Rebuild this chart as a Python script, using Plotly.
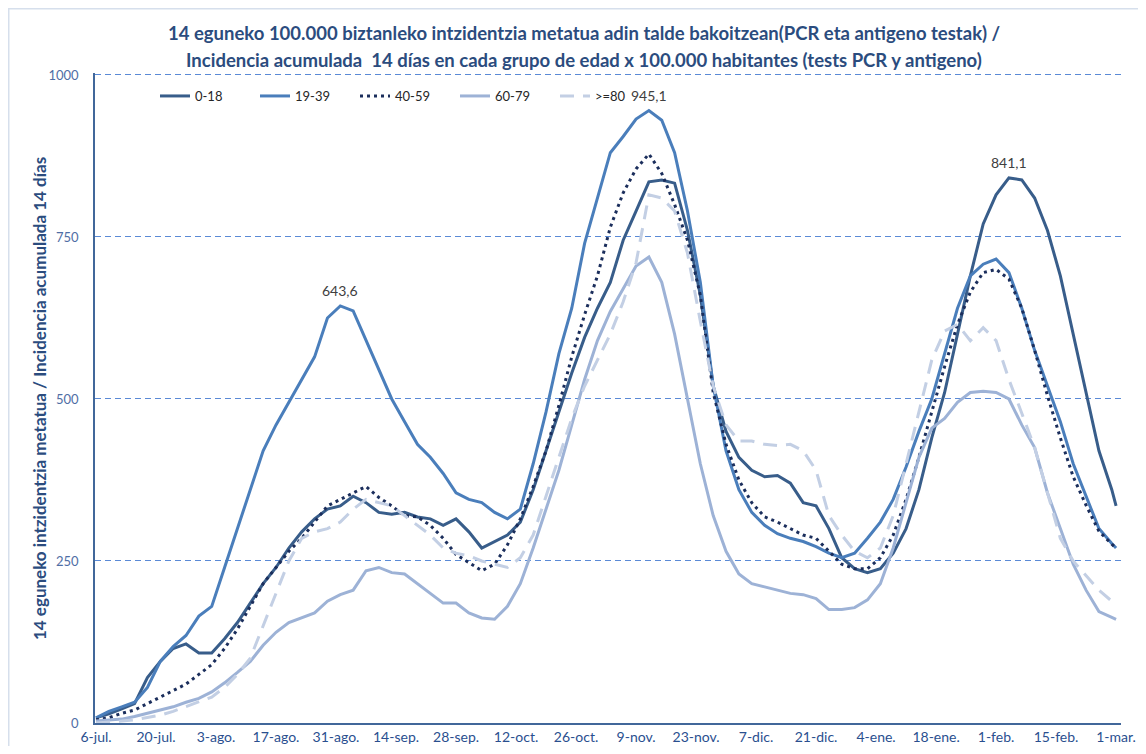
import plotly.graph_objects as go
import pandas as pd

# ---------------- data ----------------
dates = [d.strftime("%Y-%m-%d") for d in pd.date_range("2020-07-06", periods=80, freq="3D")] + ["2021-03-01"]

tick_dates = [d.strftime("%Y-%m-%d") for d in pd.date_range("2020-07-06", periods=18, freq="14D")]
tick_labels = ["6-jul.", "20-jul.", "3-ago.", "17-ago.", "31-ago.", "14-sep.", "28-sep.", "12-oct.",
               "26-oct.", "9-nov.", "23-nov.", "7-dic.", "21-dic.", "4-ene.", "18-ene.", "1-feb.",
               "15-feb.", "1-mar."]

age_0_18 = [8, 14, 22, 30, 70, 95, 115, 122, 108, 108,
            130, 155, 185, 215, 240, 270, 295, 315, 330, 335,
            350, 340, 325, 322, 325, 318, 315, 305, 315, 295,
            270, 280, 290, 310, 360, 420, 480, 540, 595, 640,
            680, 745, 790, 835, 838, 833, 760, 660, 520, 450,
            410, 390, 380, 382, 370, 340, 335, 300, 255, 238,
            232, 238, 262, 300, 360, 440, 510, 600, 690, 770,
            815, 841.1, 838, 810, 760, 690, 600, 505, 420, 360,
            335]

age_19_39 = [8, 18, 25, 32, 55, 95, 118, 135, 165, 180,
             240, 300, 360, 420, 460, 495, 530, 565, 625, 643.6,
             636, 590, 545, 500, 465, 430, 410, 385, 355, 345,
             340, 325, 315, 330, 400, 480, 570, 640, 740, 810,
             880, 905, 932, 945.1, 930, 880, 790, 680, 520, 420,
             360, 325, 305, 292, 285, 280, 272, 262, 255, 262,
             285, 310, 345, 395, 450, 500, 570, 640, 690, 708,
             716, 695, 640, 575, 520, 465, 400, 350, 300, 277,
             270]

age_40_59 = [5, 8, 15, 20, 30, 40, 50, 60, 75, 90,
             115, 145, 180, 215, 240, 265, 285, 310, 335, 345,
             355, 365, 348, 335, 320, 318, 305, 285, 260, 248,
             235, 245, 275, 315, 365, 420, 490, 565, 630, 690,
             765, 818, 855, 878, 848, 800, 745, 660, 510, 430,
             375, 340, 318, 310, 300, 290, 285, 265, 245, 238,
             238, 255, 290, 345, 410, 480, 550, 615, 665, 695,
             700, 685, 640, 575, 505, 440, 380, 336, 296, 276,
             270]

age_60_79 = [3, 4, 6, 10, 15, 20, 25, 32, 38, 48,
             62, 78, 95, 120, 140, 155, 162, 170, 188, 198,
             205, 235, 240, 232, 230, 215, 200, 185, 185, 170,
             162, 160, 180, 215, 270, 330, 390, 460, 530, 590,
             635, 670, 705, 719, 680, 600, 500, 400, 320, 265,
             230, 215, 210, 205, 200, 198, 192, 175, 175, 178,
             190, 215, 270, 340, 410, 455, 470, 495, 510, 512,
             510, 500, 460, 425, 355, 300, 245, 205, 172, 163,
             160]

age_80_plus = [0, 1, 3, 5, 8, 12, 18, 25, 32, 40,
               55, 75, 100, 150, 200, 250, 285, 295, 300, 310,
               330, 345, 340, 335, 320, 305, 290, 270, 262, 258,
               250, 245, 240, 255, 290, 350, 410, 470, 520, 560,
               600, 650, 710, 815, 810, 790, 725, 620, 520, 460,
               435, 435, 430, 428, 430, 420, 390, 320, 290, 265,
               255, 270, 320, 400, 480, 560, 605, 615, 590, 610,
               590, 530, 478, 425, 355, 285, 250, 228, 205, 188,
               185]

series_names = ["0-18", "19-39", "40-59", "60-79", ">=80"]
series_values = [age_0_18, age_19_39, age_40_59, age_60_79, age_80_plus]

# ---------------- styling ----------------
styles = [
    dict(color="#385D8A", width=3, dash="solid"),
    dict(color="#4A7EBB", width=3, dash="solid"),
    dict(color="#1B2E5C", width=3, dash="3px,4px"),
    dict(color="#9DB2D6", width=3, dash="solid"),
    dict(color="#C3CFE4", width=3, dash="14px,9px"),
]

# the page body has an 8px margin, so the figure is drawn 8px right/down
OFF = 8
W, H = 1146 - 2 * OFF, 754 - 2 * OFF
L, R, T, B = 87, 17, 65, 23
PW, PH = W - L - R, H - T - B


def px(x_page):
    return (x_page - OFF - L) / PW


def py(y_page):
    return (H - B - (y_page - OFF)) / PH


FONT = "Lato"
TITLE_COLOR = "#2B4C7E"

fig = go.Figure()
for name, vals, st in zip(series_names, series_values, styles):
    fig.add_trace(go.Scatter(
        x=dates, y=vals, name=name, mode="lines",
        line=dict(color=st["color"], width=st["width"], dash=st["dash"]),
        hoverinfo="x+y+name",
    ))

# peak labels (first-wave max of 19-39, overall max of 19-39, overall max of 0-18)
first = age_19_39[:30]
i1 = first.index(max(first))
i2 = age_19_39.index(max(age_19_39))
i3 = age_0_18.index(max(age_0_18))
peaks = [(dates[i1], age_19_39[i1]), (dates[i2], age_19_39[i2]), (dates[i3], age_0_18[i3])]

annotations = []
for d, v in peaks:
    annotations.append(dict(
        x=d, y=v, xref="x", yref="y", text=f"{v:.1f}".replace(".", ","),
        showarrow=False, yshift=15, font=dict(family=FONT, size=14, color="#404040"),
    ))

annotations.append(dict(
    x=px(584), y=py(33), xref="paper", yref="paper", showarrow=False,
    text="<b>14 eguneko 100.000 biztanleko intzidentzia metatua adin talde bakoitzean(PCR eta antigeno testak) /</b>",
    font=dict(family=FONT, size=18.5, color=TITLE_COLOR), xanchor="center", yanchor="middle",
))
annotations.append(dict(
    x=px(584), y=py(60), xref="paper", yref="paper", showarrow=False,
    text="<b>Incidencia acumulada  14 días en cada grupo de edad x 100.000 habitantes (tests PCR y antigeno)</b>",
    font=dict(family=FONT, size=18.5, color=TITLE_COLOR), xanchor="center", yanchor="middle",
))
annotations.append(dict(
    x=px(40), y=py(399), xref="paper", yref="paper", showarrow=False, textangle=-90,
    text="<b>14 eguneko intzidentzia metatua / Incidencia acumulada 14 días</b>",
    font=dict(family=FONT, size=17, color=TITLE_COLOR), xanchor="center", yanchor="middle",
))

fig.update_layout(
    width=W, height=H,
    margin=dict(l=L, r=R, t=T, b=B, autoexpand=False),
    paper_bgcolor="white", plot_bgcolor="white",
    showlegend=True,
    legend=dict(
        orientation="h", x=px(155), y=py(96), xanchor="left", yanchor="middle",
        font=dict(family=FONT, size=13, color="#262626"),
        bgcolor="rgba(0,0,0,0)", entrywidth=55, entrywidthmode="pixels",
    ),
    annotations=annotations,
    shapes=[dict(type="rect", xref="paper", yref="paper",
                 x0=px(8.75), x1=px(1170), y0=py(780), y1=py(8.75),
                 line=dict(color="#D6DFEC", width=1.5), fillcolor="rgba(0,0,0,0)", layer="below")],
    xaxis=dict(
        type="date", range=["2020-07-05 18:24", "2021-03-02 03:36"],
        tickvals=tick_dates, ticktext=tick_labels, tickangle=0,
        showgrid=False, zeroline=False, automargin=False,
        showline=True, linecolor="#41679A", linewidth=2,
        ticks="", tickfont=dict(family=FONT, size=14, color="#2A4F8F"),
    ),
    yaxis=dict(
        range=[0, 1003], tickvals=[0, 250, 500, 750, 1000],
        showgrid=True, gridcolor="#5A8AD6", gridwidth=1, griddash="6px,4px",
        zeroline=False, showline=True, linecolor="#41679A", linewidth=1.5,
        ticks="", ticklabelstandoff=12, automargin=False,
        tickfont=dict(family=FONT, size=13, color="#4F6EA5"),
    ),
    hovermode="closest",
)

fig.write_html("out.html")
